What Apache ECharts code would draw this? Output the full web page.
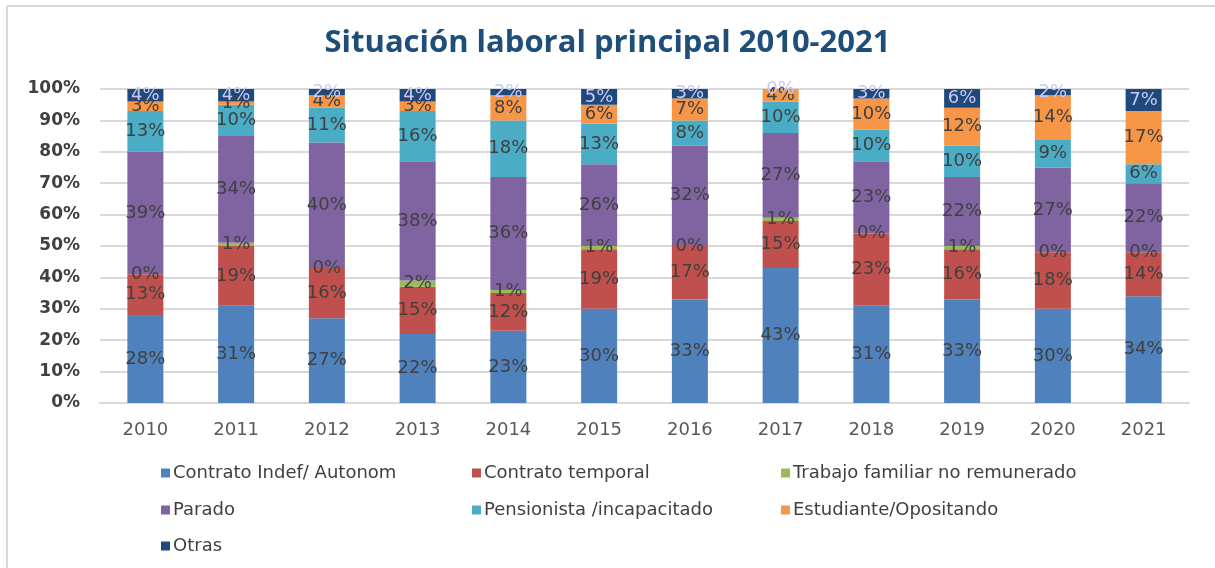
<!DOCTYPE html>
<html>
<head>
<meta charset="utf-8">
<script src="https://cdn.jsdelivr.net/npm/echarts@6/dist/echarts.min.js"></script>
<style>
  html, body { margin: 0; padding: 0; background: #fff; }
  #chart { width: 1215px; height: 568px; }
</style>
</head>
<body>
<div id="chart"></div>
<script>
const years = ['2010', '2011', '2012', '2013', '2014', '2015', '2016', '2017', '2018', '2019', '2020', '2021']

const indefAutonom = [28, 31, 27, 22, 23, 30, 33, 43, 31, 33, 30, 34]
const temporal = [13, 19, 16, 15, 12, 19, 17, 15, 23, 16, 18, 14]
const familiar = [0, 1, 0, 2, 1, 1, 0, 1, 0, 1, 0, 0]
const parado = [39, 34, 40, 38, 36, 26, 32, 27, 23, 22, 27, 22]
const pensionista = [13, 10, 11, 16, 18, 13, 8, 10, 10, 10, 9, 6]
const estudiante = [3, 1, 4, 3, 8, 6, 7, 4, 10, 12, 14, 17]
const otras = [4, 4, 2, 4, 2, 5, 3, 0, 3, 6, 2, 7]

const yTicks = [0, 10, 20, 30, 40, 50, 60, 70, 80, 90, 100]

const seriesDefs = [
  { name: 'Contrato Indef/ Autonom', data: indefAutonom, color: '#4F81BD' },
  { name: 'Contrato temporal', data: temporal, color: '#C0504D' },
  { name: 'Trabajo familiar no remunerado', data: familiar, color: '#9BBB59' },
  { name: 'Parado', data: parado, color: '#8064A2' },
  { name: 'Pensionista /incapacitado', data: pensionista, color: '#4BACC6' },
  { name: 'Estudiante/Opositando', data: estudiante, color: '#F79646' },
  { name: 'Otras', data: otras, color: '#1F497D', labelColor: '#c9c9f4' }
]

// posiciones de la leyenda (3 columnas, estilo Excel)
const legendSlots = [
  [156, 459], [467, 459], [776, 459],
  [156, 496], [467, 496], [776, 496],
  [156, 532]
]

const chart = echarts.init(document.getElementById('chart'))

chart.setOption({
  backgroundColor: '#fff',
  animation: false,
  title: {
    text: 'Situación laboral principal 2010-2021',
    left: 'center',
    top: 23,
    textStyle: { fontFamily: 'Open Sans', fontWeight: 'bold', fontSize: 31, color: '#1F4E79' }
  },
  graphic: [
    { type: 'line', shape: { x1: 7, y1: 6, x2: 7, y2: 568 }, style: { stroke: '#d9d9d9', lineWidth: 2 } },
    { type: 'line', shape: { x1: 7, y1: 6, x2: 1215, y2: 6 }, style: { stroke: '#d9d9d9', lineWidth: 2 } }
  ],
  legend: seriesDefs.map((s, i) => ({
    data: [s.name],
    left: legendSlots[i][0],
    top: legendSlots[i][1],
    icon: 'rect',
    itemWidth: 9,
    itemHeight: 9,
    itemGap: 0,
    textStyle: { fontFamily: 'DejaVu Sans', fontSize: 18, color: '#404040', padding: [0, 0, 0, -2] }
  })),
  grid: { left: 100, right: 26, top: 89, bottom: 165, containLabel: false },
  xAxis: {
    type: 'category',
    data: years,
    axisLine: { lineStyle: { color: '#d9d9d9', width: 2 } },
    axisTick: { show: false },
    axisLabel: { fontFamily: 'DejaVu Sans', fontSize: 18, color: '#595959', margin: 18 }
  },
  yAxis: {
    type: 'value',
    min: yTicks[0],
    max: yTicks[yTicks.length - 1],
    interval: 10,
    axisLine: { show: false },
    axisTick: { show: false },
    splitLine: { lineStyle: { color: '#d9d9d9', width: 2 } },
    axisLabel: {
      formatter: '{value}%',
      fontFamily: 'DejaVu Sans',
      fontWeight: 'bold',
      fontSize: 17,
      color: '#404040',
      margin: 20
    }
  },
  series: seriesDefs.map((s) => ({
    name: s.name,
    type: 'bar',
    stack: 'total',
    barWidth: 36,
    data: s.data,
    itemStyle: { color: s.color },
    label: {
      show: true,
      position: 'inside',
      formatter: '{c}%',
      fontFamily: 'DejaVu Sans',
      fontSize: 18,
      color: s.labelColor || '#404040'
    }
  }))
})
</script>
</body>
</html>
